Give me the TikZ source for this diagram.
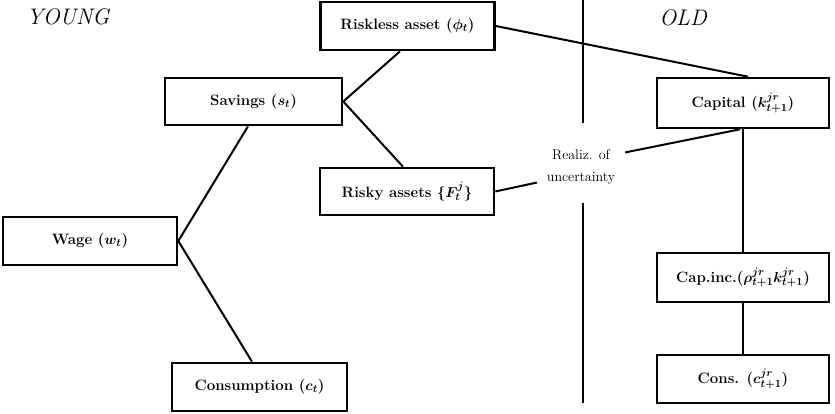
\documentclass[tikz,border=0pt]{standalone}
\usepackage{fontspec}
\begin{document}
\begin{tikzpicture}[x=1pt,y=-1pt,
  box/.style={draw,line width=2.6pt,minimum width=174pt,minimum height=48pt,inner sep=0pt,
    font=\fontsize{15}{17}\selectfont\bfseries\boldmath\addfontfeature{LetterSpace=2}},
  link/.style={line width=2pt},
  age/.style={font=\fontsize{22.5}{24}\selectfont\itshape\addfontfeature{LetterSpace=8}}]
\useasboundingbox (0,0) rectangle (835,414);
\node[box] (riskless) at (407.5,26) {Riskless asset ($\phi_t$)};
\node[box,minimum width=177pt,minimum height=47pt] (savings) at (253.5,101.5) {Savings ($s_t$)};
\node[box,minimum height=47pt] (risky) at (407,191.5) {Risky assets $\{F^j_t\}$};
\node[box] (wage) at (90,241) {Wage ($w_t$)};
\node[box,minimum width=175pt] (consumption) at (259.5,387) {Consumption ($c_t$)};
\node[box,minimum width=172pt,minimum height=50pt] (capital) at (743,103) {Capital ($k^{jr}_{t+1}$)};
\node[box,minimum width=172pt,minimum height=49pt] (capinc) at (743,277.5) {Cap.inc.($\rho^{jr}_{t+1}k^{jr}_{t+1}$)};
\node[box,minimum width=172pt] (cons) at (743,379) {Cons. ($c^{jr}_{t+1}$)};
\node[align=center,minimum width=88pt,minimum height=30pt,inner sep=0pt,
  font=\fontsize{14}{22}\selectfont\addfontfeature{LetterSpace=10}] (realiz) at (581,167.5) {Realiz. of\\uncertainty};
\node[age] (young) at (68,17) {YOUNG};
\node[age] (old) at (683,18) {OLD};
\coordinate (v1) at (583,0);
\coordinate (v2) at (583,123);
\coordinate (v3) at (583,203);
\coordinate (v4) at (583,403);
\draw[link] (v1) -- (v2);
\draw[link] (v3) -- (v4);
\draw[link] (wage.east) -- ([xshift=-5.5pt]savings.south);
\draw[link] (wage.east) -- ([xshift=-7.5pt]consumption.north);
\draw[link] (savings.east) -- ([xshift=-7.5pt]riskless.south);
\draw[link] (savings.east) -- ([xshift=-4pt]risky.north);
\draw[link] (riskless.east) -- ([xshift=5pt]capital.north);
\draw[link] (risky.east) -- ([yshift=2.5pt]realiz.south west);
\draw[link] ([yshift=-2.5pt]realiz.north east) -- ([xshift=-3pt]capital.south);
\draw[link] (capital.south) -- (capinc.north);
\draw[link] (capinc.south) -- (cons.north);
\end{tikzpicture}
\end{document}
